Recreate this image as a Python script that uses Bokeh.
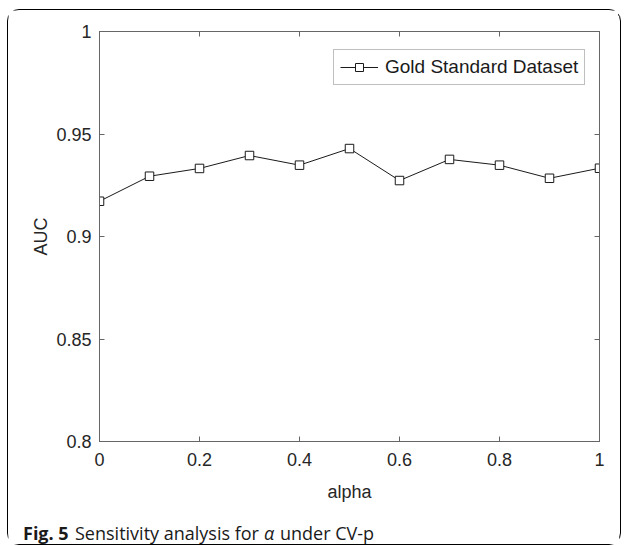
from bokeh.plotting import figure
from bokeh.layouts import column
from bokeh.models import Range1d, LinearAxis, FixedTicker, Legend, LegendItem
from bokeh.core.properties import value
from bokeh.embed import file_html
from bokeh.resources import INLINE

alpha = [0.0, 0.1, 0.2, 0.3, 0.4, 0.5, 0.6, 0.7, 0.8, 0.9, 1.0]
auc = [0.9172, 0.9294, 0.9332, 0.9395, 0.9348, 0.9429, 0.9273, 0.9376, 0.9348, 0.9284, 0.9333]
series_name = "Gold Standard Dataset"
x_ticks = [0, 0.2, 0.4, 0.6, 0.8, 1]
y_ticks = [0.8, 0.85, 0.9, 0.95, 1]
caption_parts = ["Fig. 5", "Sensitivity analysis for", "\u03b1", "under CV-p"]
caption_styles = ["bold", "normal", "italic", "normal"]

# page geometry
BL, BT, BR, BB = 7, 9, 4, 1      # outer rounded-border insets
BW = 1.5                         # border width
IW = 625 - BL - BR - 2 * BW      # inner width
IH = 546 - BT - BB - 2 * BW      # inner height (533)
OX, OY = BL + BW, BT + BW        # page offset of inner area
FL, FT = 100, 32                 # frame left/top on page
FW, FH = 500, 409
PH = 502                         # main figure height (matches its natural size)
CH = int(IH) - PH                # caption strip height (31)

p = figure(width=int(IW), height=PH, output_backend="svg", toolbar_location=None,
           x_range=Range1d(0, 1), y_range=Range1d(0.8, 1),
           frame_width=FW, frame_height=FH,
           min_border_left=int(FL - OX), min_border_top=int(FT - OY),
           min_border_right=int(IW - (FL - OX) - FW),
           min_border_bottom=int(PH - int(FT - OY) - FH),
           background_fill_color="white", border_fill_color="white")
p.grid.visible = False
p.outline_line_color = "#666666"
p.outline_line_width = 1

AX = "#666666"
TXT = "#262626"
FONT = "Liberation Sans"

top = LinearAxis()
right = LinearAxis()
p.add_layout(top, "above")
p.add_layout(right, "right")
bottom = p.below[0]
left = p.left[0]

for ax in (bottom, top):
    ax.ticker = FixedTicker(ticks=x_ticks)
for ax in (left, right):
    ax.ticker = FixedTicker(ticks=y_ticks)
for ax in (bottom, top, left, right):
    ax.axis_line_color = AX
    ax.major_tick_line_color = AX
    ax.major_tick_in = 5
    ax.major_tick_out = 0
    ax.minor_tick_line_color = None
    ax.major_label_text_font = FONT
    ax.major_label_text_font_size = "18px"
    ax.major_label_text_color = TXT
    ax.major_label_standoff = 8
    ax.axis_label_text_font = FONT
    ax.axis_label_text_font_size = "18px"
    ax.axis_label_text_font_style = "normal"
    ax.axis_label_text_color = TXT

for ax in (top, right):
    ax.major_label_text_alpha = 0
    ax.major_label_text_font_size = "1px"

bottom.major_label_standoff = 11
bottom.axis_label = "alpha"
left.axis_label = "AUC"
bottom.axis_label_standoff = 13
left.axis_label_standoff = 2

ln = p.line(alpha, auc, line_color="#1a1a1a", line_width=1)
sc = p.scatter(alpha, auc, marker="square", size=8.5, fill_color="white",
               line_color="#1a1a1a", line_width=1)

legend = Legend(items=[LegendItem(label=series_name, renderers=[ln, sc])],
                location=(234, 356), glyph_width=38, glyph_height=20,
                label_text_font=FONT, label_text_font_size="19px",
                label_text_color="#1a1a1a", border_line_color="#808080",
                border_line_width=1, padding=6, margin=0, spacing=0,
                label_standoff=7, background_fill_alpha=1)
p.add_layout(legend, "center")

# caption strip (its own figure, wrapped so that its frame is not aligned to p's)
c = figure(width=int(IW), height=CH, output_backend="svg", toolbar_location=None,
           x_range=Range1d(0, int(IW)), y_range=Range1d(0, CH),
           x_axis_type=None, y_axis_type=None,
           min_border_left=0, min_border_right=0, min_border_top=0, min_border_bottom=0,
           frame_width=int(IW), frame_height=CH,
           background_fill_color="white", border_fill_color="white")
c.grid.visible = False
c.outline_line_color = None
cap_x = [23 - OX, 75 - OX, 264 - OX, 280 - OX]
cap_base = 532 - OY - PH
for xx, t, st in zip(cap_x, caption_parts, caption_styles):
    c.text(x=[xx], y=[CH - cap_base], text=[t], text_font=value("Open Sans"),
           text_font_style=st, text_font_size="18px", text_color="#1a1a1a",
           text_baseline="alphabetic", text_align="left")

cap_box = column(c, width=int(IW), height=CH, spacing=0)

layout = column(p, cap_box, width=int(IW + 2 * BW), height=int(IH + 2 * BW),
                margin=(BT, BR, BB, BL), spacing=0,
                styles={"border": f"{BW}px solid black", "border-radius": "12px",
                        "box-sizing": "border-box", "background": "white"})

open("out.html", "w").write(file_html(layout, INLINE))
